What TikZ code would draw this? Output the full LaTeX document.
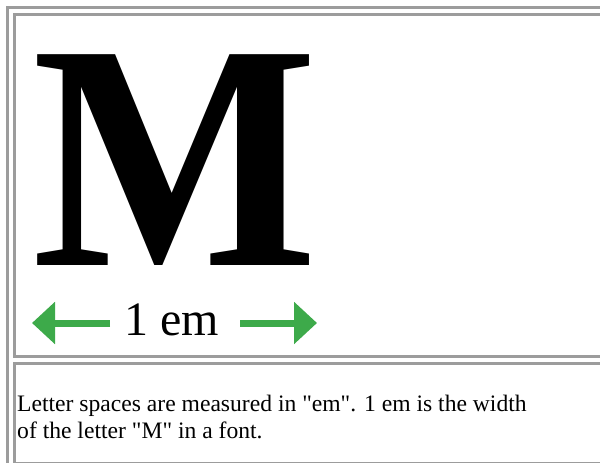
\documentclass[tikz,border=0pt]{standalone}
\usepackage{fontspec}
\setmainfont{Liberation Serif}[Ligatures=TeXOff]
\usepackage{xcolor}
\usepackage{tikz}
\usetikzlibrary{arrows.meta, positioning}
\definecolor{framegray}{HTML}{9C9C9C}
\definecolor{emgreen}{HTML}{3DAA4A}
\tikzstyle{cellbox}=[rectangle,draw=framegray,line width=3pt,
  inner sep=0pt,anchor=north west,minimum width=620pt]
\tikzstyle{notetext}=[anchor=base west,inner sep=0pt,
  font=\fontsize{23.6}{27}\selectfont]
\tikzstyle{emarr}=[-{Triangle[length=23pt,width=41pt]},line width=7pt,color=emgreen]

\begin{document}
\begin{tikzpicture}[x=1pt,y=-1pt]
  \useasboundingbox (0,0) rectangle (600,463);
  \clip (0,0) rectangle (600,463);
  \node[cellbox,minimum height=500pt] (frame) at (5.5,5.5) {};
  \node[cellbox,minimum height=342pt] (topcell) at (12.5,12.5) {};
  \node[cellbox,minimum height=100.5pt] (botcell) at (12.5,361.5) {};
  \node[anchor=base west,inner sep=0pt,text depth=0pt,
    font=\fontsize{322}{322}\selectfont\bfseries,xscale=0.94] (bigm) at (32,265) {M};
  \node[anchor=base west,inner sep=0pt,font=\fontsize{48}{48}\selectfont] (emlbl) at (124,335) {1 em};
  \coordinate (ltip) at (32,323);
  \coordinate (rtip) at (317,323);
  \draw[emarr] (emlbl.west |- ltip) ++(-14,0) -- (ltip);
  \draw[emarr] (emlbl.east |- rtip) ++(21,0) -- (rtip);
  \node[notetext] (note1) at (17,411)
    {Letter spaces are measured in "em". 1 em is the width};
  \node[notetext] (note2) at (17,438)
    {of the letter "M" in a font.};
\end{tikzpicture}
\end{document}
